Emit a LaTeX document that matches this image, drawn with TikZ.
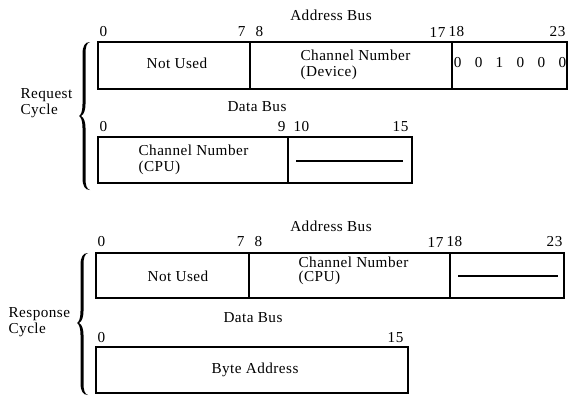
\documentclass[tikz,border=0pt]{standalone}
\usepackage{fontspec}
\setmainfont{Liberation Serif}[LetterSpace=3]

\tikzset{every picture/.style={line width=0.9pt}}
\tikzset{
  lbl/.style={font=\fontsize{11.4}{12}\selectfont, inner sep=0pt},
  bitno/.style={lbl}
}

\begin{document}
\begin{tikzpicture}[x=0.75pt,y=0.75pt,yscale=-1,xscale=1]
	\useasboundingbox (0,0) rectangle (575,396);

	%%%% Request cycle
	% Text Node
	\node[lbl] (reqab) at (331,15) {Address Bus};
	% bit numbers
	\node[bitno, anchor=west] (reqa0) at (99,32) {0};
	\node[bitno, anchor=east] (reqa7) at (246,32) {7};
	\node[bitno, anchor=west] (reqa8) at (255,32) {8};
	\node[bitno, anchor=east] (reqa17) at (446,32) {17};
	\node[bitno, anchor=west] (reqa18) at (448,32) {18};
	\node[bitno, anchor=east] (reqa23) at (566,32) {23};
	%Shape: Rectangle
	\draw (98,42) rectangle (567,89);
	\draw (250,42) -- (250,89);
	\draw (452,42) -- (452,89);
	% Text Node
	\node[lbl] (reqnu) at (177,63) {Not Used};
	\node[lbl, anchor=west, align=left] (reqchdev) at (300,65) {Channel Number\\(Device)};
	\node[lbl] (reqcode) at (510,63) {0\hspace{10pt}0\hspace{10pt}1\hspace{10pt}0\hspace{10pt}0\hspace{10pt}0};

	% Text Node
	\node[lbl] (reqdb) at (257,107) {Data Bus};
	\node[bitno, anchor=west] (reqd0) at (99,127) {0};
	\node[bitno, anchor=east] (reqd9) at (286,127) {9};
	\node[bitno, anchor=west] (reqd10) at (293,127) {10};
	\node[bitno, anchor=east] (reqd15) at (409,127) {15};
	%Shape: Rectangle
	\draw (98,137) rectangle (412,183);
	\draw (288,137) -- (288,183);
	% Text Node
	\node[lbl, anchor=west, align=left] (reqchcpu) at (138,160) {Channel Number\\(CPU)};
	\coordinate (reqdl) at (296,161);
	\coordinate (reqdr) at (403,161);
	\draw (reqdl) -- (reqdr);

	%Shape: Brace
	\fill (90,42) .. controls (85,42) and (82.5,46) .. (82.5,54) -- (82.5,104) .. controls (82.5,111) and (81,115) .. (79,116) .. controls (81,117) and (82.5,121) .. (82.5,128) -- (82.5,178) .. controls (82.5,186) and (85,190) .. (90,190) .. controls (86.5,189) and (85.5,185) .. (85.5,178) -- (85.5,128) .. controls (85.5,122) and (84,117.5) .. (81,116) .. controls (84,114.5) and (85.5,110) .. (85.5,104) -- (85.5,54) .. controls (85.5,47) and (86.5,43) .. (90,42) -- cycle;
	% Text Node
	\node[lbl, anchor=west, align=left] (reqname) at (20,103) {Request\\Cycle};

	%%%% Response cycle
	% Text Node
	\node[lbl] (resab) at (331,226) {Address Bus};
	\node[bitno, anchor=west] (resa0) at (97,242) {0};
	\node[bitno, anchor=east] (resa7) at (245,242) {7};
	\node[bitno, anchor=west] (resa8) at (254,242) {8};
	\node[bitno, anchor=east] (resa17) at (444,242) {17};
	\node[bitno, anchor=west] (resa18) at (446,242) {18};
	\node[bitno, anchor=east] (resa23) at (563,242) {23};
	%Shape: Rectangle
	\draw (96,253) rectangle (564,298);
	\draw (249,253) -- (249,298);
	\draw (450,253) -- (450,298);
	% Text Node
	\node[lbl] (resnu) at (178,276) {Not Used};
	\node[lbl, anchor=west, align=left, font=\fontsize{11.4}{10.5}\selectfont] (reschcpu) at (298,271) {Channel Number\\(CPU)};
	\coordinate (resal) at (458,276);
	\coordinate (resar) at (558,276);
	\draw (resal) -- (resar);

	% Text Node
	\node[lbl] (resdb) at (253,318) {Data Bus};
	\node[bitno, anchor=west] (resd0) at (97,338) {0};
	\node[bitno, anchor=east] (resd15) at (404,338) {15};
	%Shape: Rectangle
	\draw (96,347) rectangle (408,393);
	% Text Node
	\node[lbl] (resbyte) at (255,370) {Byte Address};

	%Shape: Brace
	\fill (88,253) .. controls (83,253) and (80.5,257) .. (80.5,265) -- (80.5,311) .. controls (80.5,318) and (79,322) .. (77,323) .. controls (79,324) and (80.5,328) .. (80.5,335) -- (80.5,383) .. controls (80.5,391) and (83,395) .. (88,395) .. controls (84.5,394) and (83.5,390) .. (83.5,383) -- (83.5,335) .. controls (83.5,329) and (82,324.5) .. (79,323) .. controls (82,321.5) and (83.5,317) .. (83.5,311) -- (83.5,265) .. controls (83.5,258) and (84.5,254) .. (88,253) -- cycle;
	% Text Node
	\node[lbl, anchor=west, align=left] (resname) at (8,322) {Response\\Cycle};

\end{tikzpicture}
\end{document}
